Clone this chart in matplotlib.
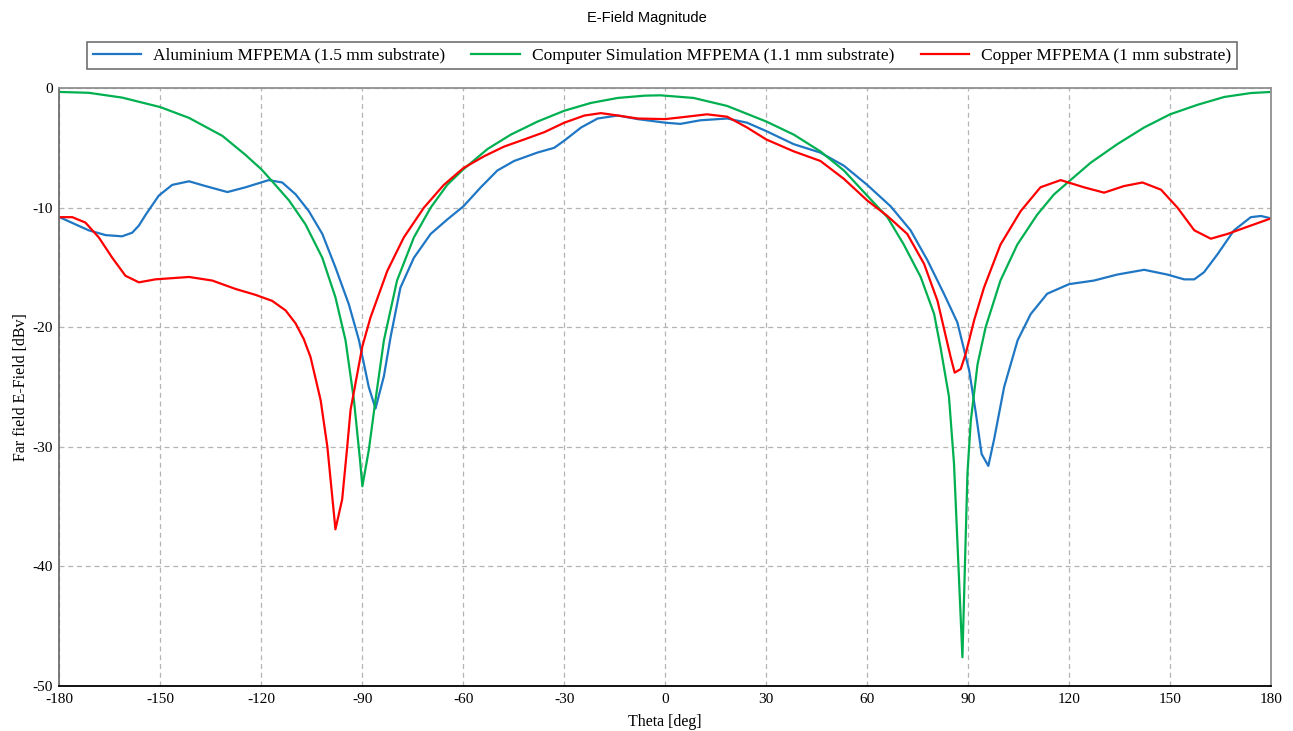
import matplotlib.pyplot as plt

plt.rcParams['axes.unicode_minus'] = False

# Aluminium MFPEMA (1.5 mm substrate)
theta_al = [-180, -171.3, -166.3, -161.4, -158.4, -156.4, -154.4, -150.5, -146.5, -141.5, -136.6,
            -130.1, -124.7, -117.8, -113.8, -109.8, -105.9, -101.9, -98, -94, -91,
            -88.1, -86.1, -83.6, -81.6, -78.7, -74.7, -69.7, -64.8, -60, -54.8,
            -49.9, -44.9, -38, -33, -30, -25, -20.1, -14.1, -8.2, 0,
            4.5, 10.4, 18.4, 24.3, 30, 38.2, 46.1, 53.1, 60, 67,
            72.9, 77.9, 82.8, 86.8, 90.3, 92.3, 94, 96, 97.7, 100.7,
            104.7, 108.6, 113.5, 120, 127.4, 134.3, 142.3, 149.2, 154.2, 157.2,
            160.1, 164.1, 169, 174, 177, 180]
al = [-10.8, -11.9, -12.3, -12.4, -12.1, -11.5, -10.6, -9.0, -8.1, -7.8, -8.2,
      -8.7, -8.3, -7.7, -7.9, -8.9, -10.3, -12.2, -15.0, -18.1, -21.1,
      -25.0, -26.8, -24.1, -20.8, -16.7, -14.2, -12.2, -11.0, -9.9, -8.3,
      -6.9, -6.1, -5.4, -5.0, -4.4, -3.3, -2.55, -2.3, -2.6, -2.9,
      -3.0, -2.7, -2.55, -2.9, -3.6, -4.7, -5.4, -6.5, -8.1, -9.9,
      -11.9, -14.4, -17.2, -19.6, -23.6, -27.2, -30.6, -31.6, -29.4, -25.0,
      -21.1, -18.9, -17.2, -16.4, -16.1, -15.6, -15.2, -15.6, -16.0, -16.0,
      -15.4, -13.9, -11.9, -10.8, -10.7, -10.9]

# Computer Simulation MFPEMA (1.1 mm substrate)
theta_sim = [-180, -171.3, -161.4, -150, -141.5, -131.6, -124.7, -120, -116.8, -111.8,
             -106.9, -101.9, -98, -95, -92.5, -90.7, -90, -88.1, -86.1, -83.6,
             -79.7, -74.7, -69.7, -64.8, -60, -52.8, -45.9, -37.9, -30, -22.1,
             -14.1, -6.1, -1.5, 8.4, 18.4, 30, 38.2, 46.1, 53.1, 60,
             66, 70.9, 75.9, 79.9, 81.8, 84.3, 85.8, 88.3, 89.8, 90.8,
             92.8, 95.2, 99.6, 104.6, 110.5, 115.5, 120, 126.4, 134.3, 142.3,
             150, 158.2, 166.1, 174, 180]
sim = [-0.33, -0.4, -0.8, -1.6, -2.5, -4.0, -5.6, -6.8, -7.8, -9.4,
       -11.4, -14.2, -17.5, -21.1, -26.1, -31.1, -33.3, -30.3, -26.1, -21.1,
       -16.1, -12.5, -10.0, -8.1, -6.8, -5.1, -3.9, -2.8, -1.9, -1.25,
       -0.83, -0.64, -0.61, -0.83, -1.5, -2.8, -3.9, -5.3, -6.9, -9.0,
       -10.8, -13.1, -15.8, -18.9, -21.7, -25.8, -31.4, -47.6, -32.2, -27.8,
       -23.1, -20.0, -16.1, -13.1, -10.6, -8.9, -7.8, -6.25, -4.7, -3.3,
       -2.2, -1.4, -0.75, -0.42, -0.33]

# Copper MFPEMA (1 mm substrate)
theta_cu = [-180, -176.2, -172.3, -168.3, -164.3, -160.4, -156.4, -151.5, -141.5, -134.6,
            -127.7, -121.7, -116.8, -112.8, -109.8, -107.4, -105.4, -102.4, -100.4, -98,
            -96, -94.5, -93.5, -90, -87.6, -82.6, -77.7, -71.7, -65.8, -60,
            -53.8, -47.9, -41.9, -36, -30, -24, -19.1, -14.1, -8.2, 0,
            6.4, 12.4, 18.4, 24.3, 30, 38.2, 46.1, 53.1, 60, 66,
            71.9, 76.9, 80.9, 84.8, 86, 87.8, 89.3, 91.8, 94.7, 99.6,
            105.6, 111.5, 117.5, 124.4, 130.4, 136.3, 141.8, 147.3, 152.2, 157.2,
            162.1, 167.1, 174, 180]
cu = [-10.8, -10.8, -11.25, -12.5, -14.2, -15.7, -16.25, -16.0, -15.8, -16.1,
      -16.8, -17.3, -17.8, -18.6, -19.7, -21.0, -22.5, -26.1, -30.0, -36.9,
      -34.4, -30.0, -26.9, -21.6, -19.2, -15.3, -12.5, -10.0, -8.1, -6.7,
      -5.7, -4.9, -4.3, -3.7, -2.9, -2.3, -2.1, -2.3, -2.55, -2.6,
      -2.4, -2.2, -2.4, -3.3, -4.3, -5.3, -6.1, -7.6, -9.4, -10.7,
      -12.2, -14.7, -17.8, -22.5, -23.8, -23.5, -22.2, -19.4, -16.7, -13.1,
      -10.3, -8.3, -7.7, -8.3, -8.75, -8.2, -7.9, -8.5, -10.0, -11.9,
      -12.6, -12.2, -11.5, -10.9]

xticks = list(range(-180, 181, 30))
yticks = [0, -10, -20, -30, -40, -50]

serif = 'Liberation Serif'

fig = plt.figure(figsize=(12.93, 7.31), dpi=100)
ax = fig.add_axes([0.046, 0.0616, 0.937, 0.818])

ax.plot(theta_al, al, color='#1f77c4', lw=1.6, label='Aluminium MFPEMA (1.5 mm substrate)')
ax.plot(theta_sim, sim, color='#00b050', lw=1.6, label='Computer Simulation MFPEMA (1.1 mm substrate)')
ax.plot(theta_cu, cu, color='#ff0000', lw=1.6, label='Copper MFPEMA (1 mm substrate)')

ax.set_xlim(-180, 180)
ax.set_ylim(-50, 0)
ax.set_xticks(xticks)
ax.set_yticks(yticks)
ax.tick_params(length=0, labelsize=11, pad=5)
for lab in ax.get_xticklabels() + ax.get_yticklabels():
    lab.set_fontfamily(serif)

ax.grid(True, linestyle=(0, (4, 3)), color='#b4b4b4', lw=0.9)

ax.spines['bottom'].set_color('black')
ax.spines['left'].set_color('#707070')
ax.spines['top'].set_color('#909090')
ax.spines['right'].set_color('#909090')
for s in ax.spines.values():
    s.set_linewidth(1.3)

ax.set_xlabel('Theta [deg]', fontfamily=serif, fontsize=11.5, labelpad=6)
ax.set_ylabel('Far field E-Field [dBv]', fontfamily=serif, fontsize=11.5, labelpad=2)

fig.text(0.5, 0.976, 'E-Field Magnitude', ha='center', va='center',
         fontfamily='Liberation Sans', fontsize=10.5)

leg = fig.legend(loc='center', bbox_to_anchor=(0.512, 0.924), ncol=3,
                 prop={'family': serif, 'size': 12.5}, handlelength=2.8,
                 columnspacing=1.5, fancybox=False, framealpha=1,
                 borderpad=0.3, handletextpad=0.7)
leg.get_frame().set_edgecolor('#707070')
leg.get_frame().set_linewidth(1.2)

fig.savefig('out.png', dpi=100)
